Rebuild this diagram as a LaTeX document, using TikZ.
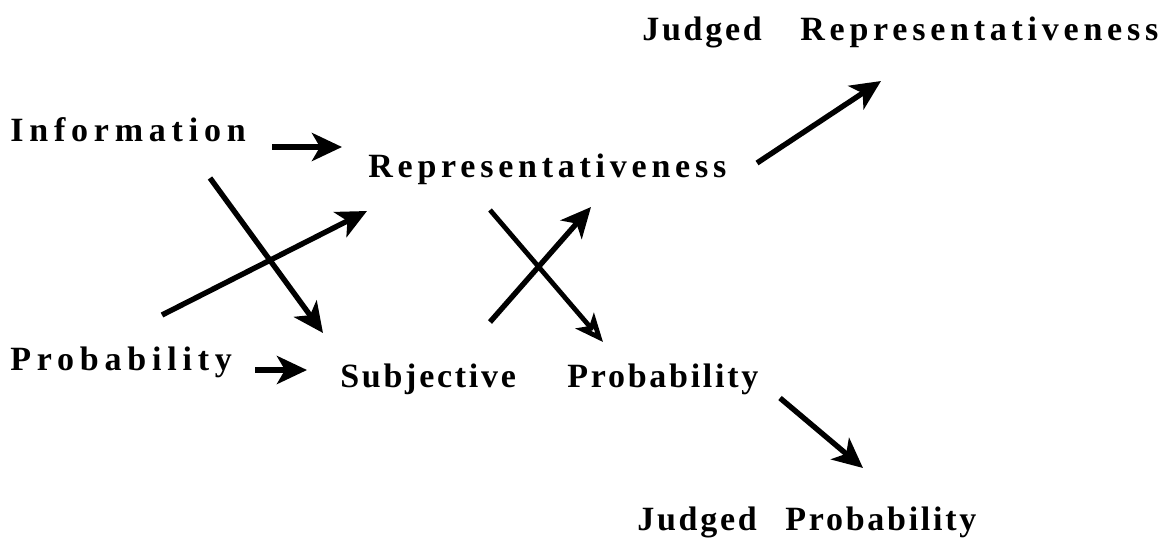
\documentclass[tikz,border=0pt]{standalone}
\usepackage{fontspec}
\setmainfont{Liberation Serif}
\newfontfamily\spacedfont[LetterSpace=14]{Liberation Serif}
\newfontfamily\tightfont[LetterSpace=8]{Liberation Serif}
\newfontfamily\widefont[LetterSpace=17]{Liberation Serif}
\usetikzlibrary{arrows.meta, positioning}

\begin{document}
\begin{tikzpicture}[x=0.5pt, y=-0.5pt,
    word/.style={font=\spacedfont\bfseries\fontsize{17}{20}\selectfont, anchor=base west, inner sep=0pt},
    tightword/.style={word, font=\tightfont\bfseries\fontsize{17}{20}\selectfont},
    wideword/.style={word, font=\widefont\bfseries\fontsize{17}{20}\selectfont},
    arr/.style={line width=2.7pt, -{Stealth[length=15pt, width=14pt, inset=4pt]}},
    openarr/.style={line width=2.4pt, -{Stealth[open, length=14pt, width=12pt, inset=3.5pt]}}]

        \useasboundingbox (0,0) rectangle (1170,541);

        % --- inputs ---
        \node[wideword] (info) at (10, 141) {Information};
        \node[wideword] (prob) at (10, 370) {Probability};

        % --- middle ---
        \node[word] (rep) at (368, 177) {Representativeness};
        \node[tightword] (subj) at (340, 387) {Subjective};
        \node[tightword] (subjprob) at (567, 387) {Probability};

        % --- judgements ---
        \node[tightword] (judgedR) at (642, 40) {Judged};
        \node[word] (judrep) at (800, 40) {Representativeness};
        \node[tightword] (judgedP) at (637, 530) {Judged};
        \node[tightword] (judprob) at (785, 530) {Probability};

        % arrow ends
        \coordinate (i1) at (272,147);  \coordinate (i2) at (342,147);
        \coordinate (p1) at (255,370);  \coordinate (p2) at (307,370);
        \coordinate (id1) at (210,178); \coordinate (id2) at (323,333);
        \coordinate (pu1) at (162,315); \coordinate (pu2) at (367,211);
        \coordinate (rd1) at (490,210); \coordinate (rd2) at (603,342);
        \coordinate (su1) at (490,322); \coordinate (su2) at (591,207);
        \coordinate (r1) at (757,163);  \coordinate (r2) at (881,81);
        \coordinate (s1) at (780,398);  \coordinate (s2) at (863,468);

        % straight arrows
        \draw[arr] (i1) -- (i2);
        \draw[arr] (p1) -- (p2);

        % crossing arrows
        \draw[arr] (id1) -- (id2);
        \draw[arr] (pu1) -- (pu2);
        \draw[openarr] (rd1) -- (rd2);
        \draw[arr] (su1) -- (su2);

        % to the judgements
        \draw[arr] (r1) -- (r2);
        \draw[arr] (s1) -- (s2);

    \end{tikzpicture}
\end{document}
